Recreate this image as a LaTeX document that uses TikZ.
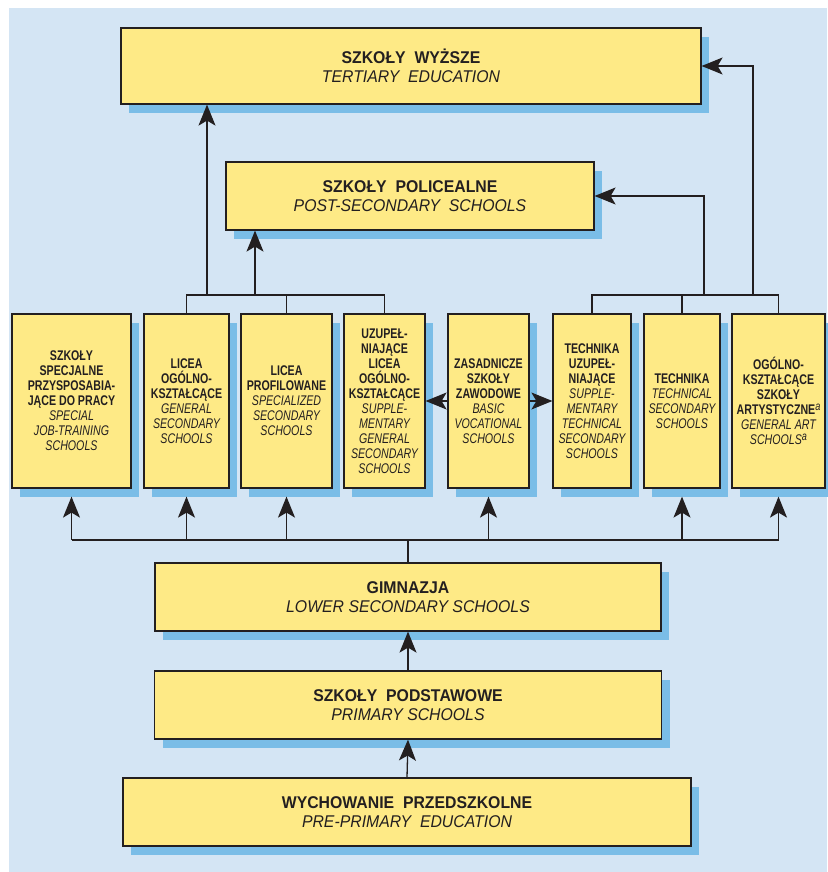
\documentclass[tikz,border=0pt]{standalone}
\usepackage{fontspec}
\setmainfont{Liberation Sans}[FakeStretch=0.93]
\newfontfamily\narrowfont{Liberation Sans}[FakeStretch=0.76]
\usepackage{tikz}
\usetikzlibrary{arrows.meta,calc,shadows}
\definecolor{boxyellow}{HTML}{FEEA86}
\definecolor{shadowblue}{HTML}{7ABDE7}
\definecolor{panelblue}{HTML}{D4E5F4}
\definecolor{inkline}{HTML}{231F20}
\newcommand{\en}[1]{{\mdseries\itshape #1}}
\newcommand{\fnmark}{\raisebox{4pt}{\fontsize{12}{12}\selectfont\en{a}}}

\begin{document}
\begin{tikzpicture}[x=1pt, y=-1pt,
  schoolbox/.style={draw=inkline, line width=1.2pt, fill=boxyellow, align=center,
    inner sep=2pt, text=inkline,
    drop shadow={shadow xshift=8pt, shadow yshift=-9pt, fill=shadowblue, opacity=1}},
  bigbox/.style={schoolbox, minimum height=68pt, font=\fontsize{17}{19}\selectfont\bfseries},
  smallbox/.style={schoolbox, minimum height=174pt, font=\narrowfont\fontsize{14}{15}\selectfont\bfseries},
  link/.style={draw=inkline, line width=1.3pt},
  uparrow/.style={link, -{Stealth[length=21pt, width=17pt, inset=5pt]}}]
  % --- Panel ---
  \useasboundingbox (0,0) rectangle (827,872);
  \fill[white] (0,0) rectangle (827,872);
  \fill[panelblue] (9,8) rectangle (827,872);

  % --- Upper levels ---
  \node[bigbox, minimum width=580pt, minimum height=76pt] (tert) at (411,66)
    {SZKOŁY~~WYŻSZE\\\en{TERTIARY~~EDUCATION}};
  \node[bigbox, minimum width=368pt] (postsec) at (410,196)
    {SZKOŁY~~POLICEALNE\\\en{POST-SECONDARY~~SCHOOLS}};

  % --- Secondary schools ---
  \node[smallbox, minimum width=119pt] (b1) at (71.5,401)
    {SZKOŁY\\SPECJALNE\\PRZYSPOSABIA-\\JĄCE DO PRACY\\\en{SPECIAL}\\\en{JOB-TRAINING}\\\en{SCHOOLS}};
  \node[smallbox, minimum width=85pt] (b2) at (186.5,401)
    {LICEA\\OGÓLNO-\\KSZTAŁCĄCE\\\en{GENERAL}\\\en{SECONDARY}\\\en{SCHOOLS}};
  \node[smallbox, minimum width=91pt] (b3) at (286.5,401)
    {LICEA\\PROFILOWANE\\\en{SPECIALIZED}\\\en{SECONDARY}\\\en{SCHOOLS}};
  \node[smallbox, minimum width=81pt] (b4) at (384.5,401)
    {UZUPEŁ-\\NIAJĄCE\\LICEA\\OGÓLNO-\\KSZTAŁCĄCE\\\en{SUPPLE-}\\\en{MENTARY}\\\en{GENERAL}\\\en{SECONDARY}\\\en{SCHOOLS}};
  \node[smallbox, minimum width=81pt] (b5) at (488.5,401)
    {ZASADNICZE\\SZKOŁY\\ZAWODOWE\\\en{BASIC}\\\en{VOCATIONAL}\\\en{SCHOOLS}};
  \node[smallbox, minimum width=78pt] (b6) at (592,401)
    {TECHNIKA\\UZUPEŁ-\\NIAJĄCE\\\en{SUPPLE-}\\\en{MENTARY}\\\en{TECHNICAL}\\\en{SECONDARY}\\\en{SCHOOLS}};
  \node[smallbox, minimum width=76pt] (b7) at (682,401)
    {TECHNIKA\\\en{TECHNICAL}\\\en{SECONDARY}\\\en{SCHOOLS}};
  \node[smallbox, minimum width=93pt] (b8) at (778.5,401)
    {OGÓLNO-\\KSZTAŁCĄCE\\SZKOŁY\\ARTYSTYCZNE\fnmark\\\en{GENERAL ART}\\\en{SCHOOLS}\fnmark};

  % --- Lower levels ---
  \node[bigbox, minimum width=506pt] (gim) at (408,597)
    {GIMNAZJA\\\en{LOWER SECONDARY SCHOOLS}};
  \node[bigbox, minimum width=507pt] (prim) at (408,705)
    {SZKOŁY~~PODSTAWOWE\\\en{PRIMARY SCHOOLS}};
  \node[bigbox, minimum width=568pt] (pre) at (407,812)
    {WYCHOWANIE~~PRZEDSZKOLNE\\\en{PRE-PRIMARY~~EDUCATION}};

  % --- Forks above the secondary schools ---
  \coordinate (fork) at (0,295);
  \draw[link] (b2.north) -- (b2.north |- fork) -- (b4.north |- fork) -- (b4.north);
  \draw[link] (b3.north) -- (b3.north |- fork);
  \draw[link] (b6.north) -- (b6.north |- fork) -- (b8.north |- fork) -- (b8.north);
  \draw[link] (b7.north) -- (b7.north |- fork);
  \coordinate (ltert) at (207,295);
  \coordinate (lpost) at (255,295);
  \coordinate (rpost) at (704,295);
  \coordinate (rtert) at (753,295);
  \draw[uparrow] (ltert) -- (ltert |- tert.south);
  \draw[uparrow] (lpost) -- (lpost |- postsec.south);
  \draw[uparrow] (rpost) |- (postsec.east);
  \draw[uparrow] (rtert) |- (tert.east);

  % --- Links beside the basic vocational schools ---
  \draw[uparrow] (b5.west) -- (b4.east);
  \draw[uparrow] (b5.east) -- (b6.west);

  % --- Bus from gimnazja ---
  \coordinate (bus) at (408,540);
  \draw[link] (gim.north) -- (bus);
  \draw[link] (b1.south |- bus) -- (b8.south |- bus);
  \foreach \b in {b1,b2,b3,b5,b7,b8}
    \draw[uparrow] (\b.south |- bus) -- ([yshift=-8pt]\b.south);

  % --- Lower arrows ---
  \draw[uparrow] (prim.north) -- (gim.south);
  \draw[uparrow] (pre.north) -- (prim.south);
\end{tikzpicture}
\end{document}
